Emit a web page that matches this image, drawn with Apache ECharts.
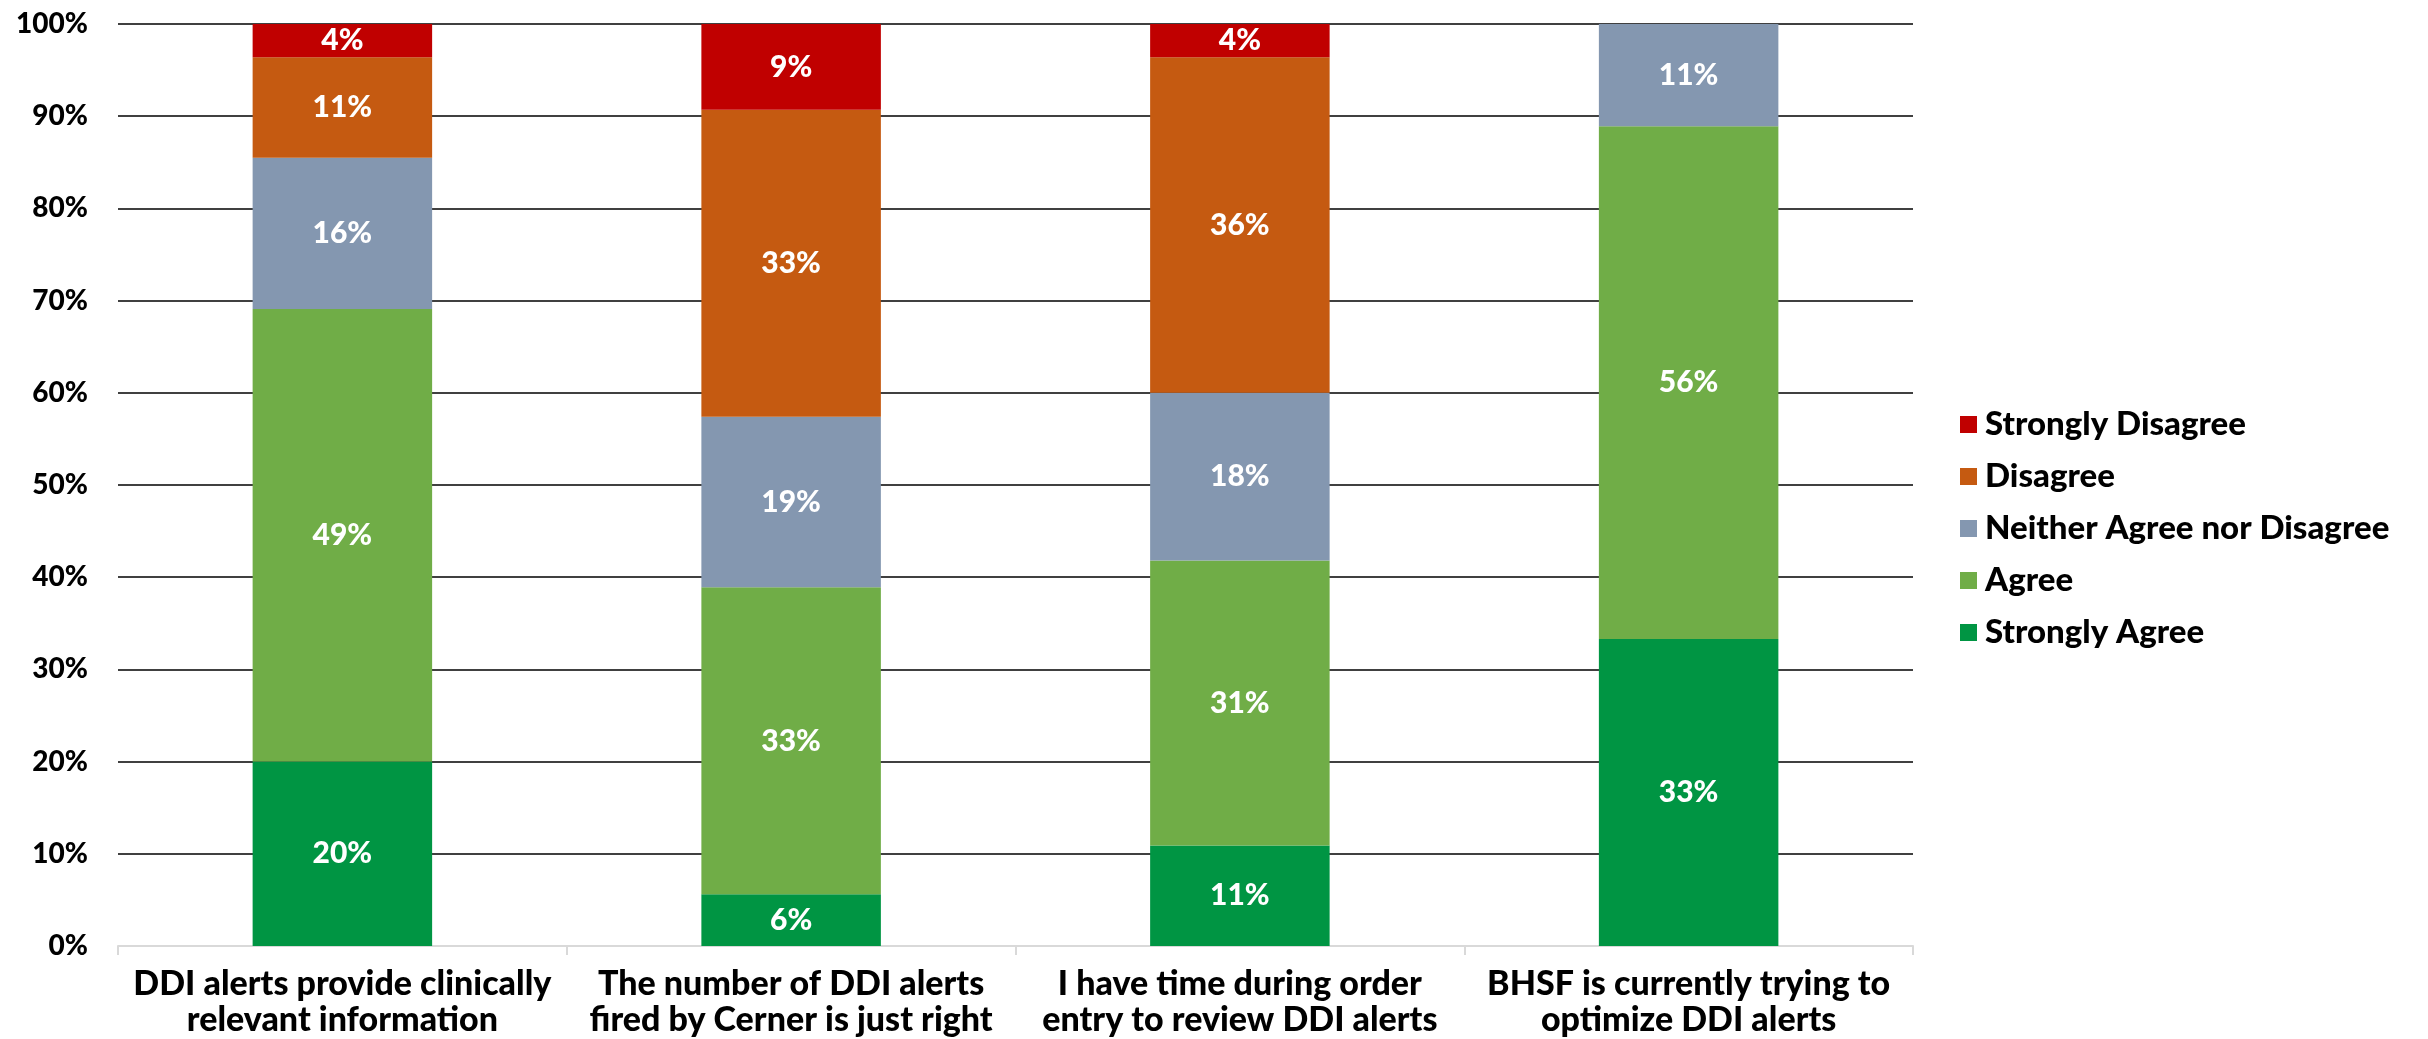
<!DOCTYPE html>
<html>
<head>
<meta charset="utf-8">
<title>DDI alerts survey</title>
<script src="https://cdn.jsdelivr.net/npm/echarts@6/dist/echarts.min.js"></script>
<style>
  html, body { margin: 0; padding: 0; background: #ffffff; }
  #chart { width: 2428px; height: 1039px; }
</style>
</head>
<body>
<div id="chart"></div>
<script>
// survey statements (x categories)
const categories = [
  'DDI alerts provide clinically\nrelevant information',
  'The number of DDI alerts\nfired by Cerner is just right',
  'I have time during order\nentry to review DDI alerts',
  'BHSF is currently trying to\noptimize DDI alerts'
]

// percent of responses
const stronglyAgree = [20.0, 5.6, 10.9, 33.3]
const agree = [49.1, 33.3, 30.9, 55.6]
const neither = [16.4, 18.5, 18.2, 11.1]
const disagree = [10.9, 33.3, 36.4, 0]
const stronglyDisagree = [3.6, 9.3, 3.6, 0]

const FONT = 'Lato'

const makeSeries = (name, data, color) => ({
  name,
  type: 'bar',
  stack: 'total',
  data,
  barWidth: '40%',
  itemStyle: { color },
  label: {
    show: true,
    position: 'inside',
    color: '#ffffff',
    fontFamily: FONT,
    fontWeight: 900,
    fontSize: 30,
    formatter: p => (p.value > 0 ? Math.round(p.value) + '%' : '')
  }
})

const chart = echarts.init(document.getElementById('chart'))

chart.setOption({
  animation: false,
  backgroundColor: '#ffffff',
  textStyle: { fontFamily: FONT },
  grid: { left: 118, right: 515, top: 24, bottom: 93 },
  legend: {
    orient: 'vertical',
    left: 1955,
    top: 403,
    itemWidth: 17,
    itemHeight: 17,
    itemGap: 19,
    icon: 'rect',
    data: ['Strongly Disagree', 'Disagree', 'Neither Agree nor Disagree', 'Agree', 'Strongly Agree'],
    textStyle: { color: '#000000', fontFamily: FONT, fontWeight: 900, fontSize: 33, padding: [0, 0, 0, 3] }
  },
  xAxis: {
    type: 'category',
    data: categories,
    axisLine: { lineStyle: { color: '#d9d9d9', width: 2 } },
    axisTick: { show: true, length: 9, lineStyle: { color: '#d9d9d9', width: 2 } },
    axisLabel: {
      color: '#000000',
      fontFamily: FONT,
      fontWeight: 900,
      fontSize: 34,
      lineHeight: 36,
      margin: 20,
      interval: 0
    }
  },
  yAxis: {
    type: 'value',
    min: 0,
    max: 100,
    interval: 10,
    axisLine: { show: false },
    axisTick: { show: false },
    axisLabel: {
      color: '#000000',
      fontFamily: FONT,
      fontWeight: 900,
      fontSize: 28,
      margin: 30,
      formatter: '{value}%'
    },
    splitLine: { showMinLine: false, lineStyle: { color: '#000000', width: 1.6 } }
  },
  series: [
    makeSeries('Strongly Agree', stronglyAgree, '#009543'),
    makeSeries('Agree', agree, '#70ad47'),
    makeSeries('Neither Agree nor Disagree', neither, '#8497b0'),
    makeSeries('Disagree', disagree, '#c55a11'),
    makeSeries('Strongly Disagree', stronglyDisagree, '#c00000')
  ]
})

window.addEventListener('resize', () => {
  chart.resize()
})
</script>
</body>
</html>
